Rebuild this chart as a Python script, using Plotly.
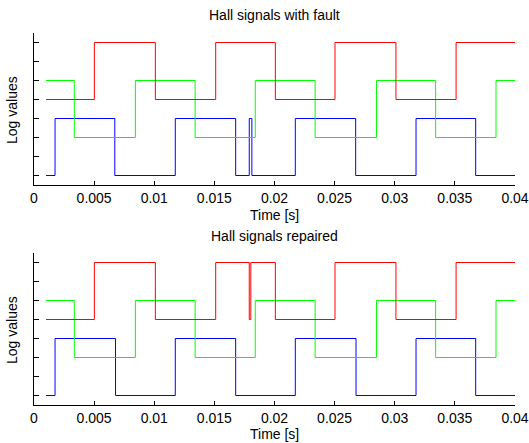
import plotly.graph_objects as go
from plotly.subplots import make_subplots

# ---- data (transition times [s] and signal levels) ----
x_ticks = [0, 0.005, 0.01, 0.015, 0.02, 0.025, 0.03, 0.035, 0.04]
x_tick_labels = ["0", "0.005", "0.01", "0.015", "0.02", "0.025", "0.03", "0.035", "0.04"]
y_ticks = [0, 1, 2, 3, 4, 5, 6, 7]

# top: signals with fault
fault_red_t = [0.001, 0.00502, 0.01009, 0.01511, 0.02007, 0.02503, 0.0301, 0.0351, 0.04]
fault_red_v = [4, 7, 4, 7, 4, 7, 4, 7, 7]
fault_green_t = [0.001, 0.00335, 0.00843, 0.0134, 0.0184, 0.02338, 0.02848, 0.0334, 0.03842, 0.04]
fault_green_v = [5, 2, 5, 2, 5, 2, 5, 2, 5, 5]
fault_blue_t = [0.001, 0.00175, 0.00672, 0.01175, 0.01677, 0.0179, 0.01812, 0.02173, 0.02675, 0.03177, 0.03673, 0.04]
fault_blue_v = [0, 3, 0, 3, 0, 3, 0, 3, 0, 3, 0, 0]

# bottom: repaired signals
rep_red_t = [0.001, 0.00502, 0.01009, 0.01511, 0.0179, 0.01803, 0.02007, 0.02503, 0.0301, 0.0351, 0.04]
rep_red_v = [4, 7, 4, 7, 4, 7, 4, 7, 4, 7, 7]
rep_green_t = [0.001, 0.00335, 0.00843, 0.0134, 0.0184, 0.02338, 0.02848, 0.0334, 0.03842, 0.04]
rep_green_v = [5, 2, 5, 2, 5, 2, 5, 2, 5, 5]
rep_blue_t = [0.001, 0.00175, 0.00678, 0.01175, 0.01677, 0.02173, 0.02678, 0.03177, 0.03673, 0.04]
rep_blue_v = [0, 3, 0, 3, 0, 3, 0, 3, 0, 0]

W, H = 529, 443
ML, MR, MT, MB = 34, 14, 33, 38
PH = H - MT - MB
PW = W - ML - MR

def py(p):  # pixel y -> paper
    return (H - MB - p) / PH

def px(p):  # pixel x -> paper
    return (p - ML) / PW

fig = make_subplots(rows=2, cols=1)

FONT = "Liberation Sans, Arial, Helvetica, sans-serif"

for row, series in [
    (1, [(fault_blue_t, fault_blue_v, "#0000ff"), (fault_green_t, fault_green_v, "#00ff00"), (fault_red_t, fault_red_v, "#ff0000")]),
    (2, [(rep_blue_t, rep_blue_v, "#0000ff"), (rep_green_t, rep_green_v, "#00ff00"), (rep_red_t, rep_red_v, "#ff0000")]),
]:
    for t, v, c in series:
        fig.add_trace(go.Scatter(x=t, y=v, mode="lines", line=dict(color=c, width=1, shape="hv"),
                                 showlegend=False, hoverinfo="skip"), row=row, col=1)

axis_common = dict(showgrid=False, zeroline=False, showline=True, linecolor="black", linewidth=1,
                   ticks="inside", tickcolor="black", tickwidth=1, mirror=False)

fig.update_xaxes(range=[0, 0.04], tickvals=x_ticks, ticktext=x_tick_labels, ticklen=4,
                 tickfont=dict(family=FONT, size=14, color="black"), **axis_common)
fig.update_yaxes(range=[-0.5, 7.5], tickvals=y_ticks, showticklabels=False, ticklen=5, **axis_common)

fig.update_layout(
    width=W, height=H, autosize=False,
    margin=dict(l=ML, r=MR, t=MT, b=MB, autoexpand=False),
    paper_bgcolor="white", plot_bgcolor="white",
    xaxis=dict(domain=[0, 1], anchor="y"),
    yaxis=dict(domain=[py(185), 1.0]),
    xaxis2=dict(domain=[0, 1], anchor="y2"),
    yaxis2=dict(domain=[0.0, py(253)]),
    font=dict(family=FONT, size=14, color="black"),
)

ann = [
    ("Hall signals with fault", px(274.5), py(15), 0),
    ("Hall signals repaired", px(274.5), py(236), 0),
    ("Time [s]", px(274.5), py(215), 0),
    ("Time [s]", px(274.5), py(434), 0),
    ("Log values", px(12), py(110), -90),
    ("Log values", px(12), py(330), -90),
]
for text, x, y, ang in ann:
    fig.add_annotation(text=text, x=x, y=y, xref="paper", yref="paper", showarrow=False,
                       xanchor="center", yanchor="middle", textangle=ang,
                       font=dict(family=FONT, size=14, color="black"))

fig.write_html("out.html", config={"displayModeBar": False, "responsive": False},
               post_script="document.body.style.margin='0px';document.body.style.padding='0px';document.body.style.overflow='hidden';")
